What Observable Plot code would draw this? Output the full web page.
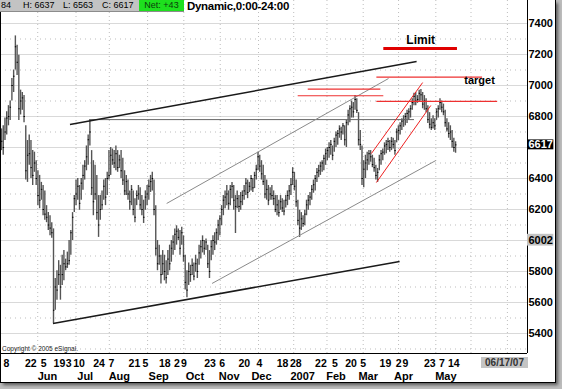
<!DOCTYPE html>
<html>
<head>
<meta charset="utf-8">
<script src="https://cdn.jsdelivr.net/npm/d3@7"></script>
<script src="https://cdn.jsdelivr.net/npm/@observablehq/plot@0.6"></script>
<style>
  html, body { margin: 0; padding: 0; }
  body { width: 562px; height: 389px; background: #bcbcbc; position: relative; overflow: hidden; font-family: "Liberation Sans", Arial, sans-serif; }
  #panel { position: absolute; left: 0; top: 0; width: 555px; height: 382px; background: #fff; box-shadow: 3px 3px 3px #5a5a5a; }
  .abs { position: absolute; white-space: nowrap; }
</style>
</head>
<body>
<div id="panel"></div>
<script>
// ---------- data ----------
const highs = [
6720,6740,6790,6830,6870,6900,7045,7100,7320,7260,
7195,6970,6955,6935,6740,6645,6680,6645,6580,6570,
6515,6450,6420,6375,6355,6320,6225,6180,6160,6115,
6075,5755,5805,5870,5840,5905,5935,5880,5925,6000,
6065,6180,6290,6390,6400,6355,6400,6485,6515,6610,
6680,6780,6580,6515,6485,6420,6290,6290,6320,6390,
6400,6440,6580,6600,6590,6580,6610,6580,6550,6580,
6530,6450,6420,6390,6320,6355,6320,6270,6320,6355,
6340,6290,6260,6320,6355,6390,6420,6440,6390,6225,
6000,5970,5905,5935,5905,5870,5935,5970,6000,6030,
6075,6095,6075,6065,6085,6030,5905,5805,5855,5840,
5880,5855,5905,5880,5970,6000,6030,6000,6010,5970,
5935,6000,6030,6050,6075,6130,6160,6225,6290,6320,
6355,6320,6355,6375,6355,6290,6320,6290,6310,6320,
6355,6400,6390,6375,6420,6400,6440,6485,6570,6550,
6515,6485,6420,6390,6355,6340,6355,6320,6290,6290,
6260,6290,6270,6260,6290,6320,6355,6400,6470,6440,
6390,6260,6195,6180,6160,6195,6260,6290,6310,6355,
6390,6420,6465,6485,6505,6515,6550,6590,6600,6630,
6645,6610,6660,6700,6710,6740,6730,6755,6740,6775,
6840,6870,6900,6890,6935,6915,6825,6710,6610,6515,
6550,6570,6580,6580,6550,6530,6485,6465,6550,6580,
6590,6630,6645,6660,6645,6665,6660,6645,6720,6740,
6760,6785,6805,6820,6840,6850,6870,6915,6950,6955,
6935,6970,6975,6955,6935,6915,6870,6825,6785,6805,
6785,6850,6870,6915,6900,6880,6840,6785,6760,6740,
6710,6660,6637];
const lows = [
6580,6550,6645,6680,6740,6775,6900,6955,7100,7065,
6775,6810,6840,6760,6390,6375,6485,6400,6355,6440,
6355,6225,6205,6260,6160,6130,6115,6065,6030,6015,
5465,5550,5615,5710,5615,5710,5740,5805,5820,5840,
5905,6000,6180,6225,6260,6195,6260,6325,6390,6450,
6485,6610,6290,6160,6260,6130,6020,6130,6195,6260,
6225,6290,6390,6420,6485,6465,6450,6440,6465,6400,
6355,6290,6290,6260,6195,6225,6160,6115,6225,6260,
6195,6160,6110,6195,6225,6260,6310,6320,6160,5900,
5805,5840,5720,5775,5740,5720,5775,5805,5860,5905,
5935,5970,6000,5905,5970,5860,5680,5630,5710,5730,
5775,5740,5795,5755,5840,5880,5920,5905,5935,5820,
5755,5870,5905,5935,5970,6000,6030,6095,6160,6205,
6225,6195,6225,6270,6195,6045,6205,6180,6195,6225,
6260,6290,6270,6310,6320,6310,6335,6390,6450,6440,
6390,6355,6270,6260,6225,6260,6260,6225,6180,6160,
6150,6195,6180,6160,6210,6225,6260,6290,6355,6320,
6215,6095,6020,6065,6085,6095,6160,6195,6225,6260,
6305,6320,6375,6405,6420,6440,6450,6485,6515,6530,
6550,6515,6570,6600,6615,6660,6645,6680,6610,6600,
6740,6760,6790,6790,6840,6820,6610,6580,6355,6340,
6400,6450,6485,6505,6470,6440,6390,6375,6450,6485,
6515,6550,6560,6580,6570,6580,6590,6550,6630,6645,
6680,6710,6730,6740,6755,6775,6790,6840,6870,6870,
6885,6890,6900,6850,6840,6825,6755,6720,6710,6720,
6710,6775,6790,6840,6825,6805,6730,6700,6660,6645,
6595,6570,6563];
const closes = [
6640,6600,6700,6790,6800,6860,7000,7060,7250,7150,
6850,6900,6920,6800,6450,6550,6560,6470,6420,6500,
6400,6290,6260,6330,6200,6170,6150,6100,6080,6050,
5550,5700,5680,5780,5700,5780,5850,5830,5850,5870,
6050,6150,6270,6300,6350,6240,6370,6420,6480,6540,
6650,6700,6340,6250,6300,6180,6100,6200,6230,6350,
6280,6400,6420,6550,6520,6500,6560,6470,6520,6450,
6390,6320,6380,6300,6250,6330,6200,6150,6290,6300,
6230,6200,6150,6280,6300,6350,6380,6400,6200,5950,
5850,5900,5780,5850,5800,5760,5880,5850,5950,5990,
6040,6060,6020,5950,6050,5900,5730,5680,5800,5780,
5840,5770,5850,5800,5920,5960,6000,5950,5990,5850,
5800,5960,6000,5990,6050,6100,6140,6200,6260,6280,
6300,6240,6330,6350,6260,6220,6270,6220,6250,6290,
6320,6370,6310,6350,6400,6340,6420,6460,6540,6480,
6430,6380,6300,6330,6260,6300,6290,6270,6200,6230,
6180,6250,6210,6190,6260,6290,6320,6360,6440,6350,
6250,6130,6080,6140,6110,6170,6230,6260,6280,6330,
6360,6400,6440,6450,6480,6500,6530,6560,6580,6600,
6620,6550,6640,6680,6690,6720,6700,6740,6650,6760,
6810,6850,6860,6830,6910,6840,6650,6620,6400,6460,
6500,6520,6560,6540,6490,6470,6420,6440,6520,6560,
6570,6610,6620,6640,6600,6640,6620,6580,6700,6710,
6740,6770,6780,6800,6820,6830,6850,6890,6930,6900,
6910,6950,6940,6880,6900,6850,6780,6750,6730,6760,
6740,6830,6850,6890,6860,6830,6760,6720,6690,6700,
6640,6600,6617];

// tick labels (bar index positions)
const dayTickLabels = ["8","22","5","19","3","10","24","7","21","5","18","2","9","23","6","20","4","18","28","22","5","20","5","19","2","9","23","7","14"];
const dayTickBars = [2.9,16.9,24.4,33.4,38.7,44.7,56.3,63.4,76.7,83.1,94.2,101.2,105.2,120.3,127.3,140.1,148.8,162.2,169.8,184.3,192.4,201.7,208.7,221.5,229.1,233.1,247.1,254.1,261.0];
const monthLabels = ["Jun","Jul","Aug","Sep","Oct","Nov","Dec","2007","Feb","Mar","Apr","May"];
const monthLabelBars = [26.5,48.3,68.0,90.7,111.6,131.4,150.0,173.8,193.0,211.6,232.0,256.4];
const monthStartBars = [20.9,43.0,62.2,84.3,105.2,126.2,148.3,168.6,187.8,208.7,229.1,250.6,270.9,291.9];
const priceLabels = [7400,7200,7000,6800,6400,6200,5800,5600,5400];
const gridMajor = [5400,5600,5800,6000,6200,6400,6600,6800,7000,7200,7400];
const gridMinor = [5300,5500,5700,5900,6100,6300,6500,6700,6900,7100,7300];
const lastClose = 6617;
const markerValue = 6002;

// drawn trend lines (bar index, price)
const blackLines = [
  {x1: 39.5, y1: 6748, x2: 239.5, y2: 7155},
  {x1: 29.7, y1: 5465, x2: 229.7, y2: 5865}
];
const resistanceLine = [{x1: 51, y1: 6780, x2: 238, y2: 6780}];
const grayChannel = [
  {x1: 95.3, y1: 6239, x2: 223.3, y2: 7045},
  {x1: 121.5, y1: 5723, x2: 250.6, y2: 6516}
];
const redChannel = [
  {x1: 213.4, y1: 6561, x2: 243.0, y2: 7019},
  {x1: 216.3, y1: 6374, x2: 247.7, y2: 6871}
];
const redLevels = [
  {x1: 176.7, x2: 218.6, y: 6977},
  {x1: 170.9, x2: 220.3, y: 6934},
  {x1: 216.3, x2: 286.0, y: 6897},
  {x1: 216.3, x2: 277.3, y: 7054}
];
const limitLevel = [{x1: 220.3, x2: 262.8, y: 7239, label: "Limit"}];
const targetNote = [{x: 267, y: 7047, label: "target"}];

// ---------- build ----------
const bars = highs.map((h, i) => ({i, high: h, low: lows[i], close: closes[i]}));
const xMin = -0.58, xMax = 303.5;
const yMin = 5271, yMax = 7471;
const F = "Liberation Sans, Arial, sans-serif";

const chart = Plot.plot({
  width: 555,
  height: 383,
  margin: 0,
  style: {background: "transparent", overflow: "visible"},
  x: {type: "linear", domain: [xMin, xMax], range: [0, 527], axis: null},
  y: {type: "linear", domain: [yMin, yMax], range: [353, 12], axis: null},
  marks: [
    Plot.ruleY(gridMajor, {y: d => d, x1: xMin, x2: xMax, stroke: "#d9d9d9", strokeWidth: 1}),
    Plot.ruleY(gridMinor, {y: d => d, x1: xMin, x2: xMax, stroke: "#bdbdbd", strokeWidth: 1, strokeDasharray: "1,4"}),
    Plot.ruleX(monthStartBars, {x: d => d, y1: yMin, y2: yMax + 80, stroke: "#bdbdbd", strokeWidth: 1, strokeDasharray: "1,3"}),
    // price bars
    Plot.ruleX(bars, {x: "i", y1: "low", y2: "high", stroke: "#555", strokeWidth: 1.4}),
    Plot.ruleY(bars, {y: "close", x1: "i", x2: d => d.i + 0.8, stroke: "#000", strokeWidth: 1}),
    // annotations
    Plot.link(resistanceLine, {x1: "x1", y1: "y1", x2: "x2", y2: "y2", stroke: "#666", strokeWidth: 1}),
    Plot.link(grayChannel, {x1: "x1", y1: "y1", x2: "x2", y2: "y2", stroke: "#8a8a8a", strokeWidth: 1}),
    Plot.link(blackLines, {x1: "x1", y1: "y1", x2: "x2", y2: "y2", stroke: "#1a1a1a", strokeWidth: 1.5}),
    Plot.link(redChannel, {x1: "x1", y1: "y1", x2: "x2", y2: "y2", stroke: "#ee2020", strokeWidth: 1}),
    Plot.link(redLevels, {x1: "x1", y1: "y", x2: "x2", y2: "y", stroke: "#ee3030", strokeWidth: 1.2}),
    Plot.link(limitLevel, {x1: "x1", y1: "y", x2: "x2", y2: "y", stroke: "#e00000", strokeWidth: 3}),
    Plot.text(limitLevel, {x: d => (d.x1 + d.x2) / 2 + 0.3, y: "y", text: "label", dy: -8, fill: "#000", fontSize: 12, fontWeight: "bold", fontFamily: F}),
    Plot.text(targetNote, {x: "x", y: "y", text: "label", textAnchor: "start", dy: 2, fill: "#000", fontSize: 11, fontWeight: "bold", fontFamily: F}),
    // plot frame (right and bottom)
    Plot.ruleX([xMax], {x: d => d, y1: yMin, y2: yMax + 80, stroke: "#000", strokeWidth: 1}),
    Plot.ruleY([yMin], {y: d => d, x1: xMin, x2: xMax, stroke: "#000", strokeWidth: 1}),
    // right axis labels
    Plot.text(priceLabels, {x: xMax, y: d => d, text: d => String(d), textAnchor: "start", dx: 1, fill: "#000", fontSize: 11, fontWeight: "bold", fontFamily: F}),
    Plot.rect([lastClose], {x1: xMax, x2: xMax + 15.2, y1: d => d - 32, y2: d => d + 32, fill: "#000"}),
    Plot.text([lastClose], {x: xMax, y: d => d, text: d => String(d), textAnchor: "start", dx: 1, fill: "#fff", fontSize: 11, fontWeight: "bold", fontFamily: F}),
    Plot.rect([markerValue], {x1: xMax, x2: xMax + 15.2, y1: d => d - 38, y2: d => d + 38, fill: "#c4c4c4"}),
    Plot.text([markerValue], {x: xMax, y: d => d, text: d => String(d), textAnchor: "start", dx: 1, fill: "#000", fontSize: 11, fontWeight: "bold", fontFamily: F}),
    // bottom axis labels
    Plot.text(dayTickBars, {x: d => d, y: yMin, text: (d, i) => dayTickLabels[i], dy: 10, fill: "#000", fontSize: 10.5, fontWeight: "bold", fontFamily: F}),
    Plot.text(monthLabelBars, {x: d => d, y: yMin, text: (d, i) => monthLabels[i], dy: 23, fill: "#000", fontSize: 11, fontWeight: "bold", fontFamily: F})
  ]
});
chart.style.position = "absolute";
chart.style.left = "0px";
chart.style.top = "0px";
const panel = document.getElementById("panel");
panel.appendChild(chart);

function addDiv(html, css) {
  const d = document.createElement("div");
  d.className = "abs";
  d.innerHTML = html;
  d.setAttribute("style", css);
  panel.appendChild(d);
  return d;
}
// frame lines
addDiv("", "left:0;top:11px;width:1px;height:372px;background:#000;");
addDiv("", "left:555px;top:0;width:1px;height:383px;background:#000;");
addDiv("", "left:0;top:382px;width:556px;height:1px;background:#000;");
// header bar
addDiv("", "left:0;top:0;width:139px;height:11px;background:#c3c3c3;border-bottom:1px solid #8c8c8c;");
addDiv("84", "left:1px;top:0;font:9px 'Liberation Sans',Arial;line-height:11px;color:#000;");
addDiv("H: 6637", "left:23px;top:0;font:9px 'Liberation Sans',Arial;line-height:11px;color:#000;");
addDiv("L: 6563", "left:63px;top:0;font:9px 'Liberation Sans',Arial;line-height:11px;color:#000;");
addDiv("C: 6617", "left:102px;top:0;font:9px 'Liberation Sans',Arial;line-height:11px;color:#000;");
addDiv("Net: +43", "left:139px;top:0;width:45px;height:11px;background:#1ee01e;text-align:center;font:9px 'Liberation Sans',Arial;line-height:11px;color:#0b3d0b;border-bottom:1px solid #8c8c8c;");
addDiv("Dynamic,0:00-24:00", "left:187px;top:0;font:bold 11.5px 'Liberation Sans',Arial;line-height:13px;letter-spacing:-0.3px;color:#000;");
// copyright
addDiv("Copyright &copy; 2005 eSignal.", "left:2px;top:345px;font:6.5px 'Liberation Sans',Arial;line-height:8px;color:#222;");
// date box
addDiv("06/17/07", "left:481px;top:357px;width:47px;height:11px;background:#c4c4c4;text-align:center;font:bold 10px 'Liberation Sans',Arial;line-height:11px;color:#333;");
</script>
</body>
</html>
